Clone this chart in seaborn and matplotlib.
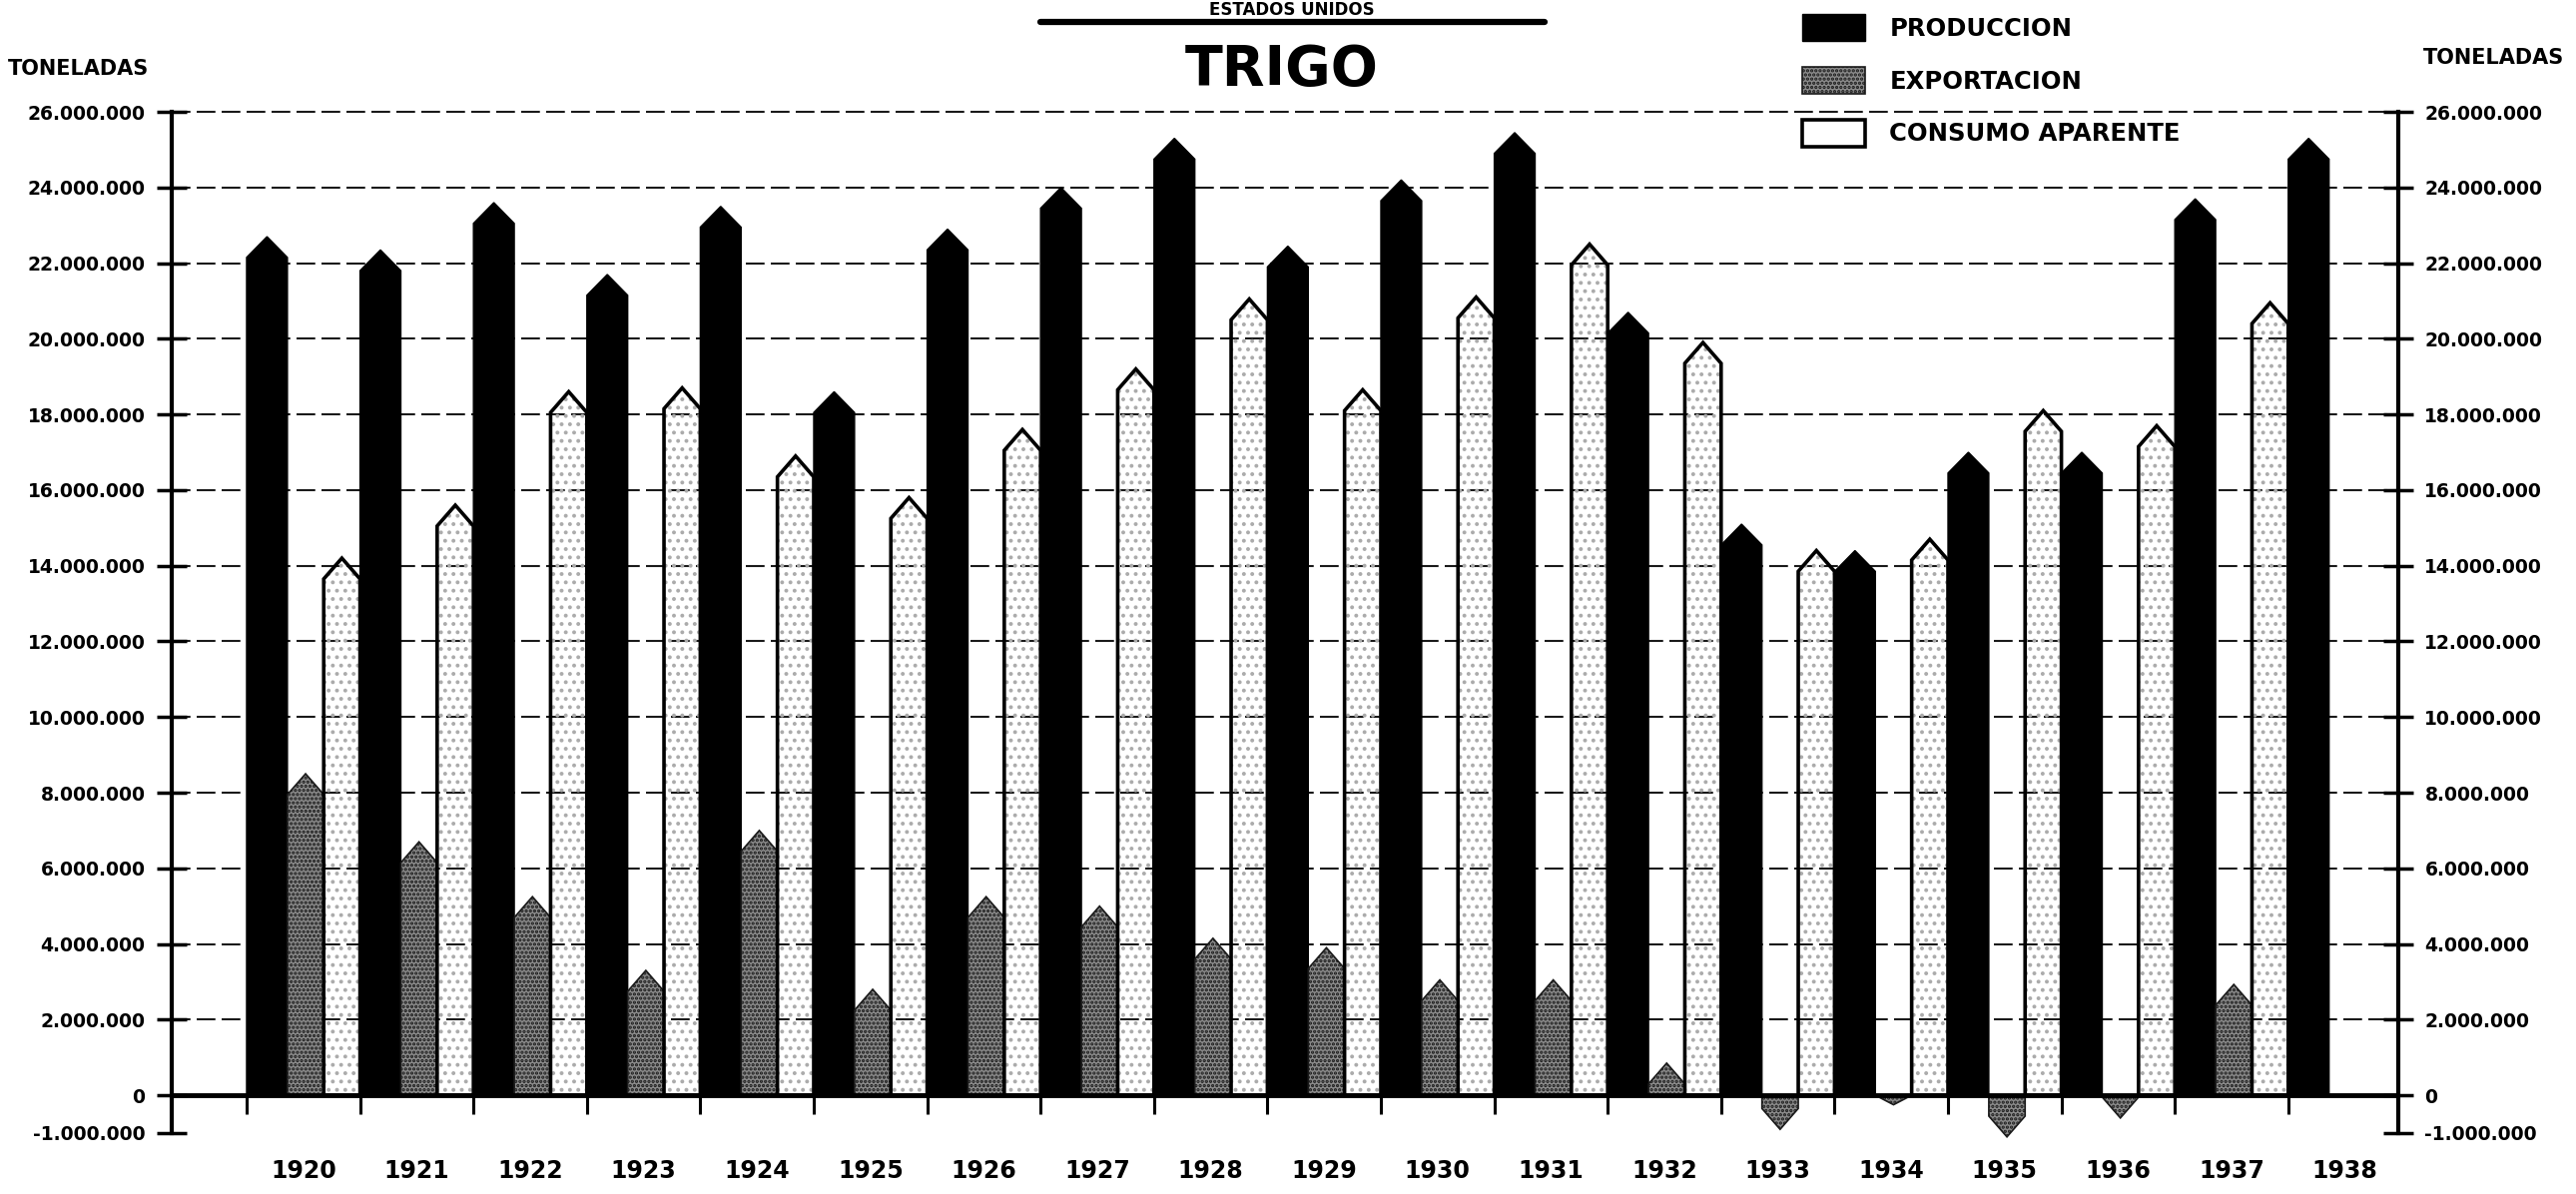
import numpy as np
import pandas as pd
import matplotlib
matplotlib.use("Agg")
import matplotlib.pyplot as plt
from matplotlib.patches import Polygon, Patch
from matplotlib.lines import Line2D
import seaborn as sns

# ---------------- data (millions of tonnes) ----------------
years = [str(y) for y in range(1920, 1939)]
produccion = [22.7, 22.35, 23.6, 21.7, 23.5, 18.6, 22.9, 24.0, 25.3, 22.45,
              24.2, 25.45, 20.7, 15.1, 14.4, 17.0, 17.0, 23.7, 25.3]
exportacion = [8.5, 6.7, 5.25, 3.3, 7.0, 2.8, 5.25, 5.0, 4.15, 3.9,
               3.05, 3.05, 0.85, -0.9, -0.25, -1.1, -0.6, 2.93, np.nan]
consumo = [14.2, 15.6, 18.6, 18.7, 16.9, 15.8, 17.6, 19.2, 21.05, 18.65,
           21.1, 22.5, 19.9, 14.4, 14.7, 18.1, 17.7, 20.95, np.nan]
series = ["PRODUCCION", "EXPORTACION", "CONSUMO APARENTE"]
ytick_vals = [-1, 0, 2, 4, 6, 8, 10, 12, 14, 16, 18, 20, 22, 24, 26]

df = pd.concat([
    pd.DataFrame({"anio": years, "serie": series[0], "valor": produccion}),
    pd.DataFrame({"anio": years, "serie": series[1], "valor": exportacion}),
    pd.DataFrame({"anio": years, "serie": series[2], "valor": consumo}),
]).dropna()

# ---------------- style ----------------
sns.set_theme(style="white")
plt.rcParams["font.family"] = ["DejaVu Sans"]
plt.rcParams["text.color"] = "black"
plt.rcParams["xtick.color"] = "black"
plt.rcParams["ytick.color"] = "black"
plt.rcParams["axes.labelcolor"] = "black"
plt.rcParams["hatch.linewidth"] = 1.6

W, H = 2580, 1196
fig = plt.figure(figsize=(W / 100, H / 100), dpi=100)
ax = fig.add_axes([172 / W, 1 - 1135 / H, (2402 - 172) / W, (1135 - 112) / H])

key_colors = {series[0]: "#000000", series[1]: "#808080", series[2]: "#ffffff"}
sns.barplot(data=df, x="anio", y="valor", hue="serie", order=years,
            hue_order=series, palette=key_colors, width=1.0, dodge=True,
            errorbar=None, legend=False, ax=ax, zorder=3)

# reshape bars into pointed "arrow" bars, contiguous inside each year group
cap = 0.55
spans = {series[0]: (-0.5, -0.14), series[1]: (-0.14, 0.18), series[2]: (0.18, 0.5)}
color_to_serie = {matplotlib.colors.to_hex(c): s for s, c in key_colors.items()}
for p in list(ax.patches):
    s = color_to_serie.get(matplotlib.colors.to_hex(p.get_facecolor()[:3]))
    if s is None:
        continue
    v = p.get_height() if p.get_y() == 0 else p.get_y()
    i = round(p.get_x() + p.get_width() / 2)
    x0, x1 = i + spans[s][0], i + spans[s][1]
    xm = (x0 + x1) / 2
    sg = 1 if v >= 0 else -1
    sh = sg * max(abs(v) - cap, 0)
    verts = [(x0, 0), (x0, sh), (xm, v), (x1, sh), (x1, 0)]
    p.remove()
    if s == series[0]:
        ax.add_patch(Polygon(verts, closed=True, facecolor="black",
                             edgecolor="black", lw=1, zorder=3, clip_on=False))
    elif s == series[1]:
        ax.add_patch(Polygon(verts, closed=True, facecolor="#8a8a8a",
                             edgecolor="#1a1a1a", hatch="....", lw=1.2,
                             zorder=3, clip_on=False))
    else:
        ax.add_patch(Polygon(verts, closed=True, facecolor="none",
                             edgecolor="#ababab", hatch="..", lw=0,
                             zorder=3, clip_on=False))
        ax.add_patch(Polygon(verts, closed=True, facecolor="none",
                             edgecolor="black", lw=2.6, zorder=3.5,
                             clip_on=False))

# ---------------- axes ----------------
ax.set_xlim(-1.16, 18.47)
ax.set_ylim(-1, 26)
ax.set_xlabel("")
ax.set_ylabel("")

ax.set_yticks(ytick_vals)
ax.set_yticklabels(["{:,}".format(int(v * 1_000_000)).replace(",", ".") for v in ytick_vals])
ax.tick_params(axis="y", which="major", direction="inout", length=22, width=2.5,
               color="black", labelcolor="black", left=True, right=True,
               labelleft=True, labelright=True, labelsize=13.5, pad=8)
for lab in ax.get_yticklabels():
    lab.set_fontweight("bold")

ax.set_xticks(range(len(years)))
ax.set_xticklabels(years, fontsize=17, fontweight="bold")
ax.tick_params(axis="x", length=0, pad=19, labelcolor="black")

for side in ["top", "bottom"]:
    ax.spines[side].set_visible(False)
for side in ["left", "right"]:
    ax.spines[side].set_visible(True)
    ax.spines[side].set_linewidth(3)
    ax.spines[side].set_color("black")

ax.grid(axis="y", color="#1a1a1a", lw=1.5, linestyle=(0, (9, 3)), zorder=1)
ax.grid(axis="x", visible=False)
ax.set_axisbelow(True)
gl = ax.get_ygridlines()
gl[0].set_visible(False)
gl[1].set_visible(False)
for g in gl:
    g.set_clip_on(False)

ax.axhline(0, color="black", lw=3.5, zorder=4)
ax.vlines(np.arange(len(years)) - 0.5, -0.5, 0, color="black", lw=2.2,
          zorder=4, clip_on=False)

# ---------------- texts ----------------
fig.text(8 / W, 1 - 69 / H, "TONELADAS", ha="left", va="center",
         fontsize=15, fontweight="bold")
fig.text(2427 / W, 1 - 58 / H, "TONELADAS", ha="left", va="center",
         fontsize=15, fontweight="bold")
fig.text(1294 / W, 1 - 15 / H, "ESTADOS UNIDOS", ha="center", va="baseline",
         fontsize=12, fontweight="bold")
fig.add_artist(Line2D([1042 / W, 1547 / W], [1 - 22 / H, 1 - 22 / H],
                      color="black", lw=4.5, transform=fig.transFigure))
fig.text(1284 / W, 1 - 70 / H, "TRIGO", ha="center", va="center",
         fontsize=40, fontweight="bold")

handles = [
    Patch(facecolor="black", edgecolor="black", lw=1),
    Patch(facecolor="#8a8a8a", edgecolor="#1a1a1a", hatch="....", lw=1.2),
    Patch(facecolor="white", edgecolor="black", lw=2.6),
]
leg = fig.legend(handles, series, loc="upper left",
                 bbox_to_anchor=(1805 / W, 1 - 14 / H), frameon=False,
                 borderpad=0, borderaxespad=0, handlelength=2.6,
                 handleheight=1.35, labelspacing=1.05, handletextpad=1.0,
                 prop={"size": 17.5, "weight": "bold"})
for t in leg.get_texts():
    t.set_color("black")

fig.savefig("out.png", dpi=100)
